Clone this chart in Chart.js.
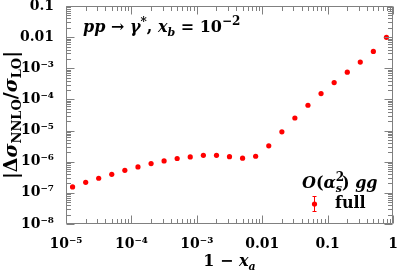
<!DOCTYPE html>
<html><head><meta charset="utf-8">
<script src="https://cdn.jsdelivr.net/npm/chart.js@4.4.1/dist/chart.umd.min.js"></script>
<style>html,body{margin:0;padding:0;background:#fff;}canvas{display:block;}</style>
</head><body>
<canvas id="c" width="399" height="273" style="width:399px;height:273px"></canvas>
<script>
// ---- data ----
const xValues = [1.26e-5, 2.0e-5, 3.16e-5, 5.01e-5, 7.94e-5, 1.26e-4, 2.0e-4, 3.16e-4, 5.01e-4, 7.94e-4,
                 1.26e-3, 2.0e-3, 3.16e-3, 5.01e-3, 7.94e-3, 0.0126, 0.02, 0.0316, 0.0501, 0.0794,
                 0.126, 0.2, 0.316, 0.501, 0.794];
const yFull = [1.55e-7, 2.18e-7, 2.94e-7, 3.95e-7, 5.3e-7, 6.8e-7, 8.7e-7, 1.06e-6, 1.27e-6, 1.43e-6,
               1.6e-6, 1.6e-6, 1.45e-6, 1.3e-6, 1.5e-6, 3.24e-6, 9.1e-6, 2.53e-5, 6.5e-5, 1.54e-4,
               3.48e-4, 7.5e-4, 1.58e-3, 3.48e-3, 9.9e-3];
const xDecades = [-5, -4, -3, -2, -1, 0];
const yDecades = [-8, -7, -6, -5, -4, -3, -2, -1];
const xTickLabels = ["10⁻⁵", "10⁻⁴", "10⁻³", "0.01", "0.1", "1"];
const yTickLabels = ["10⁻⁸", "10⁻⁷", "10⁻⁶", "10⁻⁵", "10⁻⁴", "10⁻³", "0.01", "0.1"];
const minorMultipliers = [2, 3, 4, 5, 6, 7, 8, 9];

const points = xValues.map((x, i) => ({x: x, y: yFull[i]}));

function tickList(decades) {
  const out = [];
  decades.forEach((d, i) => {
    out.push({value: Math.pow(10, d), major: true, idx: i});
    if (i < decades.length - 1) minorMultipliers.forEach(m => out.push({value: m * Math.pow(10, d), major: false}));
  });
  return out;
}
function labelFor(v, decades, labels) {
  const l = Math.log10(v);
  const r = Math.round(l);
  if (Math.abs(l - r) < 1e-6) { const i = decades.indexOf(r); if (i >= 0) return labels[i]; }
  return '';
}

const SERIF = '"DejaVu Serif"';
const TICKFONT = {family: 'DejaVu Serif', size: 14, weight: 'bold'};
const FRAME = '#808080';

function drawRich(ctx, segs, x, y, align) {
  let w = 0;
  segs.forEach(s => { ctx.font = s.f; s.w = ctx.measureText(s.t).width; if (s.adv !== false) w += s.w; });
  let cx = align === 'center' ? x - w / 2 : (align === 'right' ? x - w : x);
  segs.forEach(s => {
    ctx.font = s.f;
    ctx.fillText(s.t, cx, y + (s.dy || 0));
    if (s.adv !== false) cx += s.w;
  });
}

const decor = {
  id: 'decor',
  afterDraw(chart) {
    const ctx = chart.ctx, a = chart.chartArea;
    const xs = chart.scales.x, ys = chart.scales.y;
    ctx.save();
    ctx.strokeStyle = FRAME; ctx.lineWidth = 1;
    const L = Math.round(a.left) + 0.5, R = Math.round(a.right) - 0.5, T = Math.round(a.top) + 0.5, B = Math.round(a.bottom) - 0.5;
    ctx.beginPath();
    ctx.rect(L, T, R - L, B - T);
    tickList(xDecades).forEach(t => {
      const p = Math.round(xs.getPixelForValue(t.value)) + 0.5;
      const len = t.major ? 8 : 4.5;
      ctx.moveTo(p, B); ctx.lineTo(p, B - len);
      ctx.moveTo(p, T); ctx.lineTo(p, T + len);
    });
    tickList(yDecades).forEach(t => {
      const p = Math.round(ys.getPixelForValue(t.value)) + 0.5;
      const len = t.major ? 8 : 4.5;
      ctx.moveTo(L, p); ctx.lineTo(L + len, p);
      ctx.moveTo(R, p); ctx.lineTo(R - len, p);
    });
    ctx.stroke();

    ctx.fillStyle = '#000';
    ctx.textBaseline = 'alphabetic';
    const B16 = 'bold 16px ' + SERIF, BI16 = 'italic bold 16px ' + SERIF;
    const S11 = 'bold 11px ' + SERIF, SI11 = 'italic bold 11px ' + SERIF;
    const S12 = 'bold 12px ' + SERIF;
    // title in plot
    drawRich(ctx, [
      {t: 'pp', f: BI16}, {t: ' → ', f: B16}, {t: 'γ', f: BI16}, {t: '*', f: S12, dy: -6},
      {t: ', ', f: B16}, {t: 'x', f: BI16}, {t: 'b', f: SI11, dy: 4}, {t: ' = 10', f: B16},
      {t: '−2', f: S12, dy: -7}
    ], 83, 32, 'left');
    // x-axis title
    drawRich(ctx, [{t: '1 − ', f: B16}, {t: 'x', f: BI16}, {t: 'a', f: SI11, dy: 4}], 229.5, 266, 'center');
    // y-axis title
    ctx.save();
    ctx.translate(17, 115);
    ctx.rotate(-Math.PI / 2);
    const B19 = 'bold 19px ' + SERIF, BI19 = 'italic bold 19px ' + SERIF, S13 = 'bold 13px ' + SERIF;
    drawRich(ctx, [
      {t: '|Δ', f: B19}, {t: 'σ', f: BI19}, {t: 'NNLO', f: S13, dy: 4}, {t: '/', f: B19},
      {t: 'σ', f: BI19}, {t: 'LO', f: S13, dy: 4}, {t: '|', f: B19}
    ], 0, 0, 'center');
    ctx.restore();
    // legend
    drawRich(ctx, [
      {t: 'O', f: BI16}, {t: '(', f: B16}, {t: 'α', f: BI16},
      {t: '2', f: S12, dy: -7, adv: false}, {t: 's', f: SI11, dy: 4}, {t: ') ', f: B16}, {t: 'gg', f: BI16}
    ], 302, 188, 'left');
    drawRich(ctx, [{t: 'full', f: B16}], 335, 208, 'left');
    // legend marker with error bar
    ctx.strokeStyle = '#ff0000'; ctx.fillStyle = '#ff0000'; ctx.lineWidth = 1;
    ctx.beginPath();
    ctx.moveTo(314.5, 196); ctx.lineTo(314.5, 212);
    ctx.moveTo(312.5, 196.5); ctx.lineTo(316.5, 196.5);
    ctx.moveTo(312.5, 211.5); ctx.lineTo(316.5, 211.5);
    ctx.stroke();
    ctx.beginPath(); ctx.arc(314.5, 204, 2.6, 0, Math.PI * 2); ctx.fill();
    ctx.restore();
  }
};

new Chart(document.getElementById('c'), {
  type: 'scatter',
  data: {datasets: [{label: 'full', data: points, backgroundColor: '#ff0000', borderColor: '#ff0000',
                     pointRadius: 2.6, pointBorderWidth: 0}]},
  options: {
    responsive: false, animation: false, devicePixelRatio: 1,
    layout: {padding: {left: 0, right: 6, top: 6, bottom: 0}},
    plugins: {legend: {display: false}, tooltip: {enabled: false}},
    scales: {
      x: {
        type: 'logarithmic', min: 1e-5, max: 1,
        grid: {display: false}, border: {display: false},
        afterBuildTicks: s => { s.ticks = tickList(xDecades).map(t => ({value: t.value})); },
        ticks: {autoSkip: false, maxRotation: 0, padding: 4, color: '#000', font: TICKFONT,
                callback: v => labelFor(v, xDecades, xTickLabels)},
        afterFit: s => { s.height = 49; s.paddingLeft = 0; s.paddingRight = 0; }
      },
      y: {
        type: 'logarithmic', min: 1e-8, max: 0.1,
        grid: {display: false}, border: {display: false},
        afterBuildTicks: s => { s.ticks = tickList(yDecades).map(t => ({value: t.value})); },
        ticks: {autoSkip: false, padding: 4, color: '#000', font: TICKFONT,
                callback: v => labelFor(v, yDecades, yTickLabels)},
        afterFit: s => { s.width = 66; s.paddingTop = 0; s.paddingBottom = 0; }
      }
    }
  },
  plugins: [decor]
});
</script>
</body></html>
